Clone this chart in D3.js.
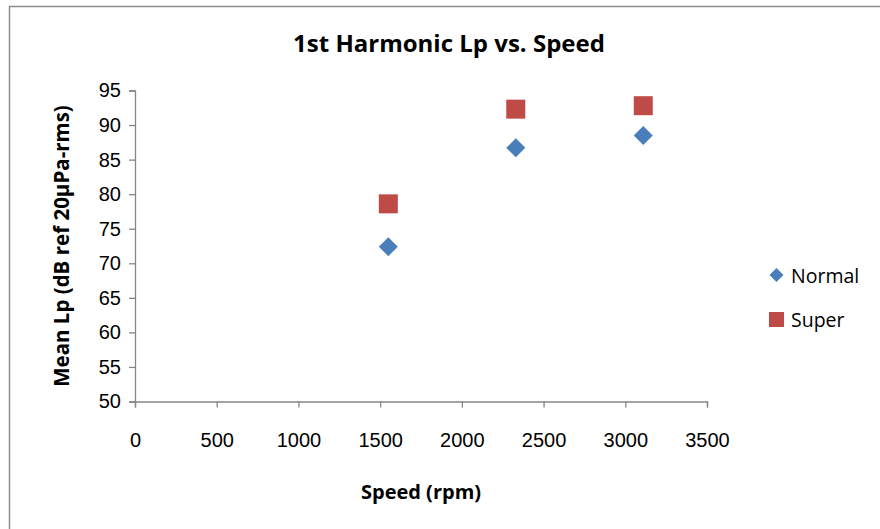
<!DOCTYPE html>
<html>
<head>
<meta charset="utf-8">
<script src="https://cdn.jsdelivr.net/npm/d3@7"></script>
<style>
  html, body { margin: 0; padding: 0; background: #fff; }
  svg { display: block; font-family: "Open Sans", "Liberation Sans", sans-serif; }
</style>
</head>
<body>
<svg id="chart" width="880" height="529"></svg>
<script>
// Speeds (rpm) at which the first harmonic was measured
const speeds = [1550, 2330, 3110];
// Mean sound pressure level, dB ref 20 µPa rms
const normalLp = [72.4, 86.7, 88.5];
const superLp = [78.6, 92.3, 92.8];
const seriesNames = ["Normal", "Super"];
const seriesColors = ["#4a7ebb", "#be4b48"];
const xTicks = [0, 500, 1000, 1500, 2000, 2500, 3000, 3500];
const yTicks = [50, 55, 60, 65, 70, 75, 80, 85, 90, 95];

const series = [
  { name: seriesNames[0], color: seriesColors[0], shape: "diamond",
    points: speeds.map((s, i) => ({ x: s, y: normalLp[i] })) },
  { name: seriesNames[1], color: seriesColors[1], shape: "square",
    points: speeds.map((s, i) => ({ x: s, y: superLp[i] })) }
];

const svg = d3.select("#chart");
const axisGrey = "#868686";

// chart frame (top and left edges)
svg.append("path")
  .attr("d", "M9.5,529 L9.5,6.5 L880,6.5")
  .attr("fill", "none")
  .attr("stroke", "#8c8c8c")
  .attr("stroke-width", 1.5);

const plot = { left: 135, right: 707, top: 90.5, bottom: 401.5 };

const x = d3.scaleLinear().domain([0, 3500]).range([plot.left, plot.right]);
const y = d3.scaleLinear().domain([50, 95]).range([plot.bottom, plot.top]);

// x axis
const xAxis = svg.append("g")
  .attr("transform", `translate(0,${plot.bottom})`)
  .call(d3.axisBottom(x).tickValues(xTicks).tickSize(6).tickPadding(25).tickFormat(d3.format("d")));
// y axis
const yAxis = svg.append("g")
  .attr("transform", `translate(${plot.left},0)`)
  .call(d3.axisLeft(y).tickValues(yTicks).tickSize(6).tickPadding(8).tickFormat(d3.format("d")));

[xAxis, yAxis].forEach(g => {
  g.select(".domain").attr("stroke", axisGrey).attr("stroke-width", 1.3);
  g.selectAll(".tick line").attr("stroke", axisGrey).attr("stroke-width", 1.3);
  g.selectAll(".tick text").attr("fill", "#000").style("font-size", "20px");
});

const markerSize = { diamond: 19, square: 19 };
const legendSize = { diamond: 14, square: 15 };

function drawMarker(g, shape, size, color) {
  if (shape === "diamond") {
    const h = size / 2;
    g.append("path")
      .attr("d", `M0,${-h} L${h},0 L0,${h} L${-h},0 Z`)
      .attr("fill", color);
  } else {
    g.append("rect")
      .attr("x", -size / 2).attr("y", -size / 2)
      .attr("width", size).attr("height", size)
      .attr("fill", color);
  }
}

// data points
series.forEach(s => {
  s.points.forEach(p => {
    const g = svg.append("g").attr("transform", `translate(${x(p.x)},${y(p.y)})`);
    drawMarker(g, s.shape, markerSize[s.shape], s.color);
  });
});

// title
svg.append("text")
  .attr("x", 449).attr("y", 52)
  .attr("text-anchor", "middle")
  .style("font-size", "24px").style("font-weight", "bold")
  .text("1st Harmonic Lp vs. Speed");

// axis titles
svg.append("text")
  .attr("x", 421).attr("y", 499)
  .attr("text-anchor", "middle")
  .style("font-size", "20px").style("font-weight", "bold")
  .text("Speed (rpm)");

svg.append("text")
  .attr("transform", "translate(69,246) rotate(-90)")
  .attr("text-anchor", "middle")
  .style("font-size", "20.5px").style("font-weight", "bold")
  .text("Mean Lp (dB ref 20µPa-rms)");

// legend
const legend = svg.append("g");
series.forEach((s, i) => {
  const cy = 275 + i * 44.5;
  const g = legend.append("g").attr("transform", `translate(776.5,${cy})`);
  drawMarker(g, s.shape, legendSize[s.shape], s.color);
  legend.append("text")
    .attr("x", 791).attr("y", cy + 7.5)
    .style("font-size", "19.5px")
    .text(s.name);
});
</script>
</body>
</html>
